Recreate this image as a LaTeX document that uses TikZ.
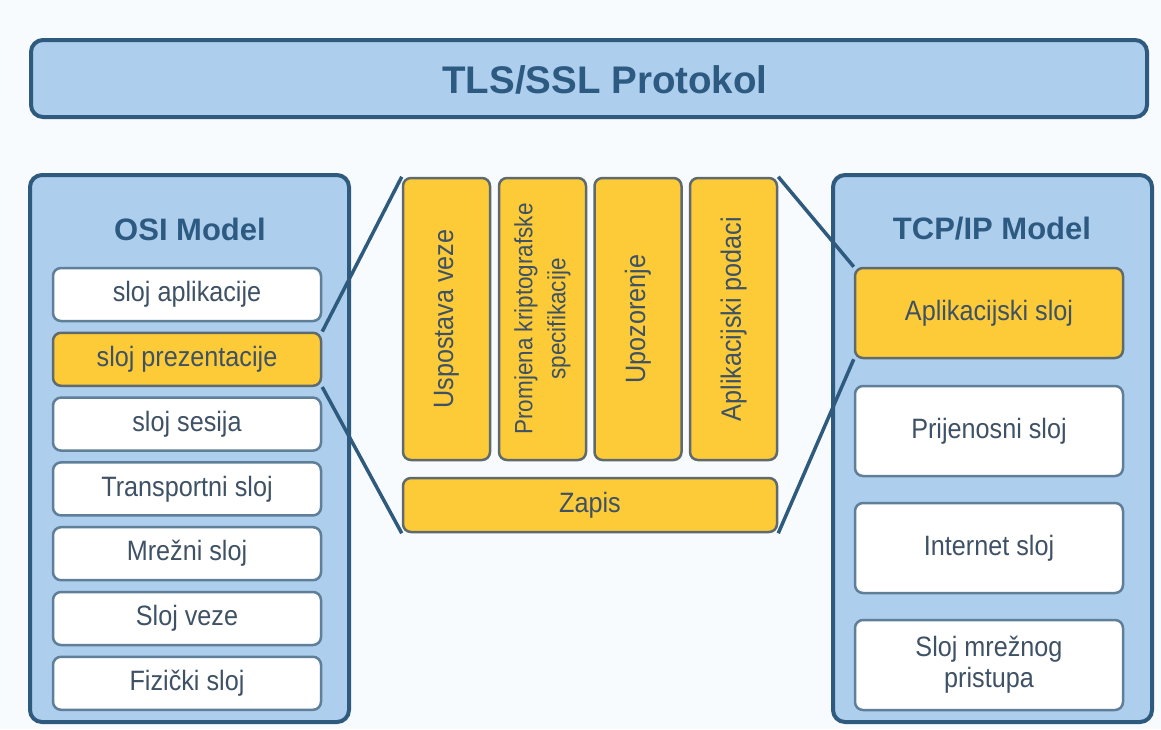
\documentclass[tikz,border=0pt]{standalone}
\usepackage{fontspec}
\setmainfont{Liberation Sans}
\newfontfamily\lblfont[FakeStretch=0.9]{Liberation Sans}
\definecolor{bgc}{HTML}{F8FBFD}
\definecolor{dkblue}{HTML}{2E5A7E}
\definecolor{ltblue}{HTML}{AECEEE}
\definecolor{layerbd}{HTML}{5F7E98}
\definecolor{gold}{HTML}{FCCB37}
\definecolor{goldbd}{HTML}{5E6A6E}
\definecolor{txt}{HTML}{3E5165}
\definecolor{ttl}{HTML}{2D5A80}
\begin{document}
\begin{tikzpicture}[x=1pt,y=-1pt,
  outerbox/.style={draw=dkblue, line width=4pt, fill=ltblue, rounded corners=12pt, inner sep=0pt},
  titletext/.style={text=ttl, font=\bfseries\fontsize{31}{34}\selectfont, inner sep=0pt},
  layer/.style={draw=layerbd, line width=2.5pt, fill=white, rounded corners=8pt, inner sep=0pt,
                text=txt, font=\lblfont\fontsize{28}{31}\selectfont, align=center},
  hl/.style={layer, fill=gold, draw=goldbd},
  osil/.style={layer, minimum width=268pt, minimum height=53pt},
  tcpl/.style={layer, minimum width=268pt, minimum height=90pt},
  vbox/.style={hl, minimum width=87pt, minimum height=282pt},
  vtext/.style={rotate=90, text=txt, font=\lblfont\fontsize{28}{31}\selectfont, align=center, inner sep=0pt},
  conn/.style={draw=dkblue, line width=3.5pt}]
\fill[bgc] (0,0) rectangle (1161,729);
\useasboundingbox (0,0) rectangle (1161,729);

% banner
\node[outerbox, minimum width=1116pt, minimum height=77pt] (banner) at (589,78.5) {};
\node[text=ttl, font=\bfseries\fontsize{38.5}{41}\selectfont, inner sep=0pt] (bannertext) at (605,80) {TLS/SSL Protokol};

% OSI model
\node[outerbox, minimum width=319pt, minimum height=547pt] (osi) at (189.5,448.5) {};
\node[titletext] (osititle) at (190,229) {OSI Model};
\node[osil] (o1) at (187,294.5) {sloj aplikacije};
\node[osil, hl] (o2) at (187,359.3) {sloj prezentacije};
\node[osil] (o3) at (187,424.1) {sloj sesija};
\node[osil] (o4) at (187,488.9) {Transportni sloj};
\node[osil] (o5) at (187,553.7) {Mrežni sloj};
\node[osil] (o6) at (187,618.5) {Sloj veze};
\node[osil] (o7) at (187,683.3) {Fizički sloj};

% TCP/IP model
\node[outerbox, minimum width=319pt, minimum height=547pt] (tcp) at (992.5,448.5) {};
\node[titletext] (tcptitle) at (992,229) {TCP/IP Model};
\node[tcpl, hl] (p1) at (989,313) {Aplikacijski sloj};
\node[tcpl] (p2) at (989,431) {Prijenosni sloj};
\node[tcpl] (p3) at (989,548) {Internet sloj};
\node[tcpl] (p4) at (989,665) {Sloj mrežnog\\pristupa};

% TLS components
\node[vbox] (u1) at (446.5,319) {};
\node[vbox] (u2) at (542.5,319) {};
\node[vbox] (u3) at (638,319) {};
\node[vbox] (u4) at (733.5,319) {};
\node[vtext] (t1) at (u1.center) {Uspostava veze};
\node[vtext, font=\lblfont\fontsize{25}{33}\selectfont] (t2) at (u2.center) {Promjena kriptografske\\specifikacije};
\node[vtext] (t3) at (u3.center) {Upozorenje};
\node[vtext] (t4) at (u4.center) {Aplikacijski podaci};
\node[hl, minimum width=374pt, minimum height=54pt] (zapis) at (590,505) {Zapis};

% connectors
\draw[conn] (o2.north east) -- (u1.north west);
\draw[conn] (o2.south east) -- (zapis.south west);
\draw[conn] (u4.north east) -- (p1.north west);
\draw[conn] (zapis.south east) -- (p1.south west);
\end{tikzpicture}
\end{document}
